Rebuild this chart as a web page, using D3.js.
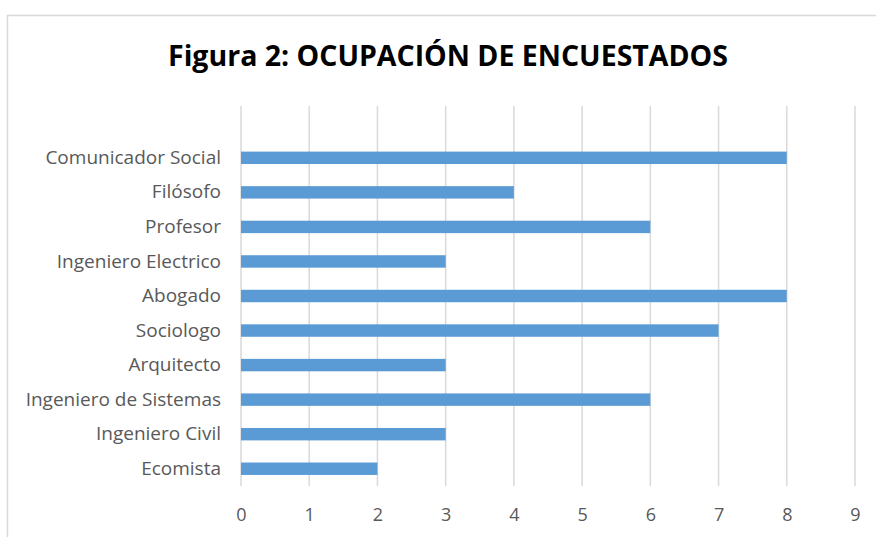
<!DOCTYPE html>
<html>
<head>
<meta charset="utf-8">
<script src="https://cdn.jsdelivr.net/npm/d3@7"></script>
<style>
  body { margin: 0; background: #fff; }
  svg { display: block; }
</style>
</head>
<body>
<div class="chart"></div>
<script>
// categories top to bottom (first one is the empty slot at the top of the plot)
var categories = ["", "Comunicador Social", "Filósofo", "Profesor", "Ingeniero Electrico", "Abogado",
    "Sociologo", "Arquitecto", "Ingeniero de Sistemas", "Ingeniero Civil", "Ecomista"]
var values = [null, 8, 4, 6, 3, 8, 7, 3, 6, 3, 2]
var xTicks = [0, 1, 2, 3, 4, 5, 6, 7, 8, 9]
var title = "Figura 2: OCUPACIÓN DE ENCUESTADOS"

var W = 876, H = 537
var plot = { left: 241, right: 855, top: 106, bottom: 486 }
var font = "'Open Sans', 'Noto Sans', sans-serif"

var svg = d3.select(".chart")
    .append("svg")
    .attr("width", W)
    .attr("height", H)
    .style("font-family", font)

// chart frame (runs off the right and bottom of the picture)
svg.append("rect")
    .attr("x", 7.5)
    .attr("y", 15.5)
    .attr("width", 900)
    .attr("height", 600)
    .attr("fill", "none")
    .attr("stroke", "#d9d9d9")
    .attr("stroke-width", 1.5)

svg.append("text")
    .attr("x", 448)
    .attr("y", 66)
    .attr("text-anchor", "middle")
    .style("font-size", "28.5px")
    .style("font-weight", "bold")
    .attr("fill", "#000")
    .text(title)

var x = d3.scaleLinear()
    .domain([0, 9])
    .range([plot.left, plot.right])

var y = d3.scaleBand()
    .domain(categories)
    .range([plot.top, plot.bottom])
    .paddingInner(0.64)
    .paddingOuter(0.32)

// gridlines
svg.append("g")
    .selectAll("line")
    .data(xTicks)
    .join("line")
    .attr("x1", function (d) { return x(d) })
    .attr("x2", function (d) { return x(d) })
    .attr("y1", plot.top)
    .attr("y2", plot.bottom)
    .attr("stroke", "#d9d9d9")
    .attr("stroke-width", 1.5)

// bars
var rows = categories.map(function (c, i) { return { cat: c, value: values[i] } })
    .filter(function (d) { return d.value != null })

svg.append("g")
    .selectAll("rect")
    .data(rows)
    .join("rect")
    .attr("x", x(0))
    .attr("y", function (d) { return y(d.cat) })
    .attr("width", function (d) { return x(d.value) - x(0) })
    .attr("height", y.bandwidth())
    .attr("fill", "#5b9bd5")

// x axis labels
svg.append("g")
    .attr("transform", "translate(0," + (plot.bottom + 29) + ")")
    .call(d3.axisBottom(x).tickValues(xTicks).tickSize(0).tickFormat(d3.format("d")))
    .call(function (g) { g.select(".domain").remove() })
    .selectAll("text")
    .attr("fill", "#595959")
    .style("font-size", "18px")
    .style("font-family", font)
    .attr("dy", "0.35em")
    .attr("y", 0)

// y axis labels
svg.append("g")
    .attr("transform", "translate(" + (plot.left - 20) + ",0)")
    .call(d3.axisLeft(y).tickSize(0))
    .call(function (g) { g.select(".domain").remove() })
    .selectAll("text")
    .attr("fill", "#595959")
    .style("font-size", "19px")
    .style("font-family", font)
    .attr("x", 0)
</script>
</body>
</html>
